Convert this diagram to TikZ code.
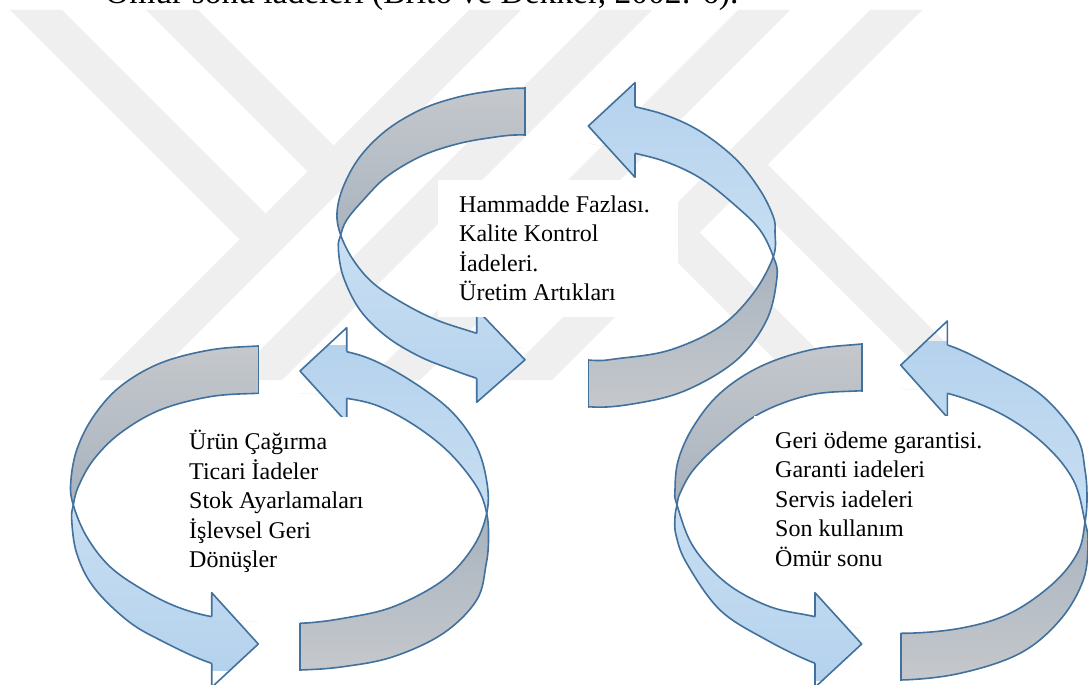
\documentclass[tikz,border=0pt]{standalone}
\usepackage{fontspec}
\setmainfont{Liberation Serif}
\usetikzlibrary{calc}

\definecolor{ringedge}{RGB}{65,113,156}
\definecolor{wmgray}{RGB}{239,239,239}
\definecolor{blueend}{RGB}{181,210,237}
\definecolor{bluetwist}{RGB}{199,222,242}
\definecolor{grayend}{RGB}{197,200,204}
\definecolor{graytwist}{RGB}{167,178,190}

\tikzset{
  ringline/.style={draw=ringedge, line width=1.6pt, line join=round},
  endline/.style={ringline, line cap=rect},
  wmband/.style={fill=wmgray},
  blueshade/.style={top color=blueend, bottom color=blueend, middle color=bluetwist},
  grayshade/.style={top color=grayend, bottom color=grayend, middle color=graytwist},
  blocktext/.style={anchor=base west, inner sep=0pt, font=\fontsize{24}{29.6}\selectfont},
  bodytext/.style={anchor=base west, inner sep=0pt, font=\fontsize{33.5}{40}\selectfont},
}

% upper and lower edge of each ribbon ring
\def\ringAU{plot[smooth cycle, tension=0.6] coordinates {(337,213) (343.3,186.7) (360,156.7) (386.7,130) (420,110) (453.3,98.3) (486.7,91.7) (525,88.3) (580,95) (635,106.7) (670,116.7) (703.3,133.3) (736.7,160) (760,190) (773.3,216.7) (775,232) (773.3,256.7) (753.3,293.3) (720,326.7) (670,350) (620,358.3) (588.3,360) (530,350) (476.7,333.3) (436.7,320) (403.3,303.3) (373.3,283.3) (353.3,260) (340.7,235)}}
\def\ringAD{plot[smooth cycle, tension=0.6] coordinates {(338.3,248.3) (340.7,235) (346.7,220) (363.3,200) (386.7,176.7) (420,156.7) (453.3,145) (486.7,138.3) (525,135) (580,142) (635,153.3) (670,163.3) (703.3,180) (736.7,206.7) (760,230) (773.3,256.7) (777,277) (766.7,320) (736.7,360) (686.7,390) (636.7,403.3) (588.3,406.7) (530,395) (476.7,378.3) (453.3,370) (420,356.7) (386.7,336.7) (360,310) (343.3,276.7)}}

\def\ringBU{plot[smooth cycle, tension=0.6] coordinates {(70.7,483.3) (76.7,450) (93.3,416.7) (120,386.7) (160,363.3) (210,350) (258.3,346) (300,345) (346.7,351.7) (380,363.3) (420,386.7) (453.3,413.3) (476.7,446.7) (487,483) (486.7,513.3) (473.3,546.7) (443.3,580) (393.3,606.7) (343.3,618.3) (300,623.3) (256,622) (211.7,616.7) (176.7,606.7) (143.3,590) (110,566.7) (86.7,536.7) (73.3,505)}}
\def\ringBD{plot[smooth cycle, tension=0.6] coordinates {(71.7,520) (73.3,505) (78.3,486.7) (93.3,460) (120,433.3) (160,410) (210,396.7) (258.3,393.3) (300,393) (346.7,398.3) (380,406.7) (416.7,426.7) (450,453.3) (476.7,486.7) (486.7,513.3) (488.5,540) (486,565) (476.7,600) (443.3,633.3) (393.3,656.7) (343.3,666.7) (300,670) (256,670) (211.7,663.3) (160,640) (126.7,620) (93.3,586.7) (76.7,553.3)}}

\def\ringCU{plot[smooth cycle, tension=0.6] coordinates {(675,490) (678.3,460) (693.3,426.7) (720,393.3) (760,366.7) (810,350) (861.7,344) (905,341) (947.3,345) (1000,370) (1043.3,396.7) (1076.7,436.7) (1085,470) (1087,498) (1085,522) (1078,552) (1053.3,583.3) (1010,613.3) (960,628.3) (900.7,633.3) (858,628) (815,616.7) (770,606.7) (726.7,583.3) (693.3,546.7) (677,505)}}
\def\ringCD{plot[smooth cycle, tension=0.6] coordinates {(675,517) (677,505) (680,493.3) (693.3,470) (720,443.3) (760,413.3) (810,395) (861.7,390.7) (905,389) (947.3,393.3) (1000,413.3) (1043.3,443.3) (1073.3,480) (1085,522) (1088,542) (1083.3,580) (1060,620) (1020,653.3) (960,673.3) (900.7,680) (858,676) (815,663.3) (766.7,640) (720,610) (686.7,563.3) (676,535)}}

% #1 upper edge, #2 lower edge, #3 y between the two halves, #4 prefix.
% Uses the ribbon end points <prefix>utl/dtl (tail of the left arrow), utr/dtr (head base of
% the right arrow), ubl/dbl (head base of the left arrow), ubr/dbr (tail of the right arrow),
% and <prefix>top/bot, the vertical extent of the ring.
\newcommand\drawring[4]{%
  \coordinate (#4high) at (0,-20);
  \coordinate (#4low) at (0,720);
  \coordinate (#4mid) at (0,#3);
  \coordinate (#4ml) at ($(#4ubl)!0.5!(#4dbl)+(0,4)$);
  \coordinate (#4mr) at ($(#4utr)!0.5!(#4dtr)+(0,-4)$);
  % ribbon bodies
  \begin{scope}[even odd rule]
    \clip (-20,-20) rectangle (#4utl |- #4low);
    \clip #1;
    \clip #1 #2;
    \shade[grayshade] (0,0 |- #4top) rectangle (1088,0 |- #4bot);
  \end{scope}
  \begin{scope}[even odd rule]
    \clip (-20,-20) rectangle ($(#4ubl |- #4low)+(1,0)$);
    \clip #2;
    \clip #1 #2;
    \shade[blueshade] (0,0 |- #4top) rectangle (1088,0 |- #4bot);
  \end{scope}
  \begin{scope}[even odd rule]
    \clip ($(#4utr |- #4high)+(-1,0)$) rectangle (1120,720);
    \clip #1;
    \clip #1 #2;
    \shade[blueshade] (0,0 |- #4top) rectangle (1088,0 |- #4bot);
  \end{scope}
  \begin{scope}[even odd rule]
    \clip (#4ubr |- #4high) rectangle (1120,720);
    \clip #2;
    \clip #1 #2;
    \shade[grayshade] (0,0 |- #4top) rectangle (1088,0 |- #4bot);
  \end{scope}
  % arrow heads
  \begin{scope}
    \clip (#4ubl) -- ($(#4ubl)+(0,-24)$) -- (#4utl |- #4ml) -- ($(#4dbl)+(0,24)$) -- (#4dbl) -- cycle;
    \shade[blueshade] (0,0 |- #4top) rectangle (1088,0 |- #4bot);
  \end{scope}
  \draw[ringline] (#4ubl) -- ($(#4ubl)+(0,-24)$) -- (#4utl |- #4ml) -- ($(#4dbl)+(0,24)$) -- (#4dbl);
  \begin{scope}
    \clip (#4utr) -- ($(#4utr)+(0,-24)$) -- (#4ubr |- #4mr) -- ($(#4dtr)+(0,24)$) -- (#4dtr) -- cycle;
    \shade[blueshade] (0,0 |- #4top) rectangle (1088,0 |- #4bot);
  \end{scope}
  \draw[ringline] (#4utr) -- ($(#4utr)+(0,-24)$) -- (#4ubr |- #4mr) -- ($(#4dtr)+(0,24)$) -- (#4dtr);
  % outlines
  \begin{scope}
    \clip (-20,-20) -- (#4utl |- #4high) -- (#4utl |- #4mid) -- (#4ubl |- #4mid) -- (#4ubl |- #4low) -- (-20,720) -- cycle
          (#4utr |- #4high) -- (1120,-20) -- (1120,720) -- (#4ubr |- #4low) -- (#4ubr |- #4mid) -- (#4utr |- #4mid) -- cycle;
    \draw[ringline] #1;
    \draw[ringline] #2;
  \end{scope}
  \draw[endline] (#4utl) -- (#4dtl);
  \draw[endline] (#4ubr) -- (#4dbr);
}

\begin{document}
\begin{tikzpicture}[x=1pt, y=-1pt]
\fill[white] (0,0) rectangle (1088,685);
\begin{scope}
\clip (0,0) rectangle (1088,685);

% faint emblem in the background
\fill[wmband] (10,10) -- (62,10) -- (265.5,213.5) -- (239.5,239.5) -- cycle;
\fill[wmband] (146,10) -- (198,10) -- (333.5,145.5) -- (307.5,171.5) -- cycle;
\fill[wmband] (469,10) -- (521,10) -- (151,380) -- (99,380) -- cycle;
\fill[wmband] (600,10) -- (652,10) -- (282,380) -- (230,380) -- cycle;
\fill[wmband] (738,10) -- (790,10) -- (420,380) -- (368,380) -- cycle;
\fill[wmband] (870,10) -- (922,10) -- (552,380) -- (500,380) -- cycle;
\fill[wmband] (741.5,190.5) -- (767.5,164.5) -- (983,380) -- (931,380) -- cycle;
\fill[wmband] (673.5,258.5) -- (699.5,232.5) -- (847,380) -- (795,380) -- cycle;

% last line of the preceding paragraph, mostly above the top edge
\node[bodytext] (citeline) at (105,3.5) {Ömür sonu iadeleri (Brito ve Dekker, 2002: 6).};

% the three circular arrows
\coordinate (Atop) at (0,88);  \coordinate (Abot) at (0,407);
\coordinate (Autl) at (525,88.3);   \coordinate (Adtl) at (525,135);
\coordinate (Autr) at (635,106.7);  \coordinate (Adtr) at (635,153.3);
\coordinate (Aubl) at (476.7,333.3);\coordinate (Adbl) at (476.7,378.3);
\coordinate (Aubr) at (588.3,360);  \coordinate (Adbr) at (588.3,406.7);
\drawring{\ringAU}{\ringAD}{240}{A}

\coordinate (Btop) at (0,345);  \coordinate (Bbot) at (0,670);
\coordinate (Butl) at (258.3,346);  \coordinate (Bdtl) at (258.3,393.3);
\coordinate (Butr) at (346.7,351.7);\coordinate (Bdtr) at (346.7,398.3);
\coordinate (Bubl) at (211.7,616.7);\coordinate (Bdbl) at (211.7,663.3);
\coordinate (Bubr) at (300,623.3);  \coordinate (Bdbr) at (300,670);
\drawring{\ringBU}{\ringBD}{510}{B}

\coordinate (Ctop) at (0,341);  \coordinate (Cbot) at (0,680);
\coordinate (Cutl) at (861.7,344);  \coordinate (Cdtl) at (861.7,390.7);
\coordinate (Cutr) at (947.3,345);  \coordinate (Cdtr) at (947.3,393.3);
\coordinate (Cubl) at (815,616.7);  \coordinate (Cdbl) at (815,663.3);
\coordinate (Cubr) at (900.7,633.3);\coordinate (Cdbr) at (900.7,680);
\drawring{\ringCU}{\ringCD}{510}{C}

% text panels
\fill[white] (438,180) rectangle (678,317);
\fill[white] (168,417) rectangle (372,585);
\fill[white] (754,416) rectangle (986,585);

\node[blocktext] (rawtext) at (459,212) {\parbox[t]{230pt}{Hammadde Fazlası.\\Kalite Kontrol\\İadeleri.\\Üretim Artıkları}};
\node[blocktext] (producttext) at (189,449.5) {\parbox[t]{200pt}{Ürün Çağırma\\Ticari İadeler\\Stok Ayarlamaları\\İşlevsel Geri\\Dönüşler}};
\node[blocktext] (usetext) at (775,448) {\parbox[t]{230pt}{Geri ödeme garantisi.\\Garanti iadeleri\\Servis iadeleri\\Son kullanım\\Ömür sonu}};
\end{scope}

\pgfresetboundingbox
\path[use as bounding box] (0,0) rectangle (1088,685);
\end{tikzpicture}
\end{document}
